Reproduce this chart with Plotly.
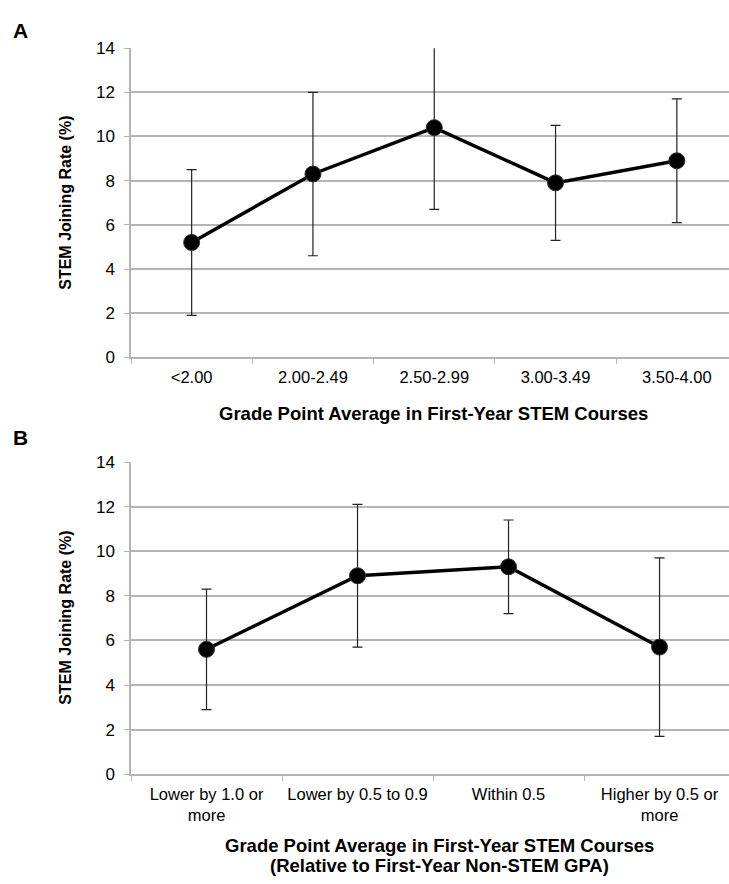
import plotly.graph_objects as go

# Panel A data
cats_a = ["<2.00", "2.00-2.49", "2.50-2.99", "3.00-3.49", "3.50-4.00"]
rate_a = [5.2, 8.3, 10.4, 7.9, 8.9]
err_a = [3.3, 3.7, 3.7, 2.6, 2.8]

# Panel B data
cats_b = ["Lower by 1.0 or<br>more", "Lower by 0.5 to 0.9", "Within 0.5", "Higher by 0.5 or<br>more"]
rate_b = [5.6, 8.9, 9.3, 5.7]
err_b = [2.7, 3.2, 2.1, 4.0]

y_ticks = [0, 2, 4, 6, 8, 10, 12, 14]

W, H = 729, 884
FONT = "Liberation Sans, Arial, sans-serif"

def py(pix):
    return 1 - pix / H

fig = go.Figure()

marker = dict(size=16, color="black", line=dict(color="#333", width=1))
line = dict(color="black", width=3.4)

fig.add_trace(go.Scatter(
    x=cats_a, y=rate_a, mode="lines+markers", marker=marker, line=line,
    error_y=dict(type="data", array=err_a, visible=True, color="#222", thickness=1.2, width=5),
    xaxis="x", yaxis="y", showlegend=False))

fig.add_trace(go.Scatter(
    x=cats_b, y=rate_b, mode="lines+markers", marker=marker, line=line,
    error_y=dict(type="data", array=err_b, visible=True, color="#222", thickness=1.2, width=5),
    xaxis="x2", yaxis="y2", showlegend=False))

grid = "#b4b4b4"
common_x = dict(type="category", showgrid=False, showline=True, linecolor=grid, linewidth=1.5,
                ticks="outside", tickson="boundaries", ticklen=5, tickcolor=grid,
                tickfont=dict(family=FONT, size=16.5, color="black"), zeroline=False,
                ticklabelstandoff=4)
common_y = dict(range=[0, 14], tickvals=y_ticks, showgrid=True, gridcolor=grid, gridwidth=1.5,
                showline=True, linecolor=grid, linewidth=1.5, ticks="outside", ticklen=5,
                tickcolor=grid, tickfont=dict(family=FONT, size=17, color="black"),
                zeroline=False, ticklabelstandoff=6)

fig.update_layout(
    width=W, height=H,
    margin=dict(l=0, r=0, t=0, b=0),
    paper_bgcolor="white", plot_bgcolor="white",
    xaxis=dict(common_x, domain=[131 / W, 1], anchor="y", categoryarray=cats_a,
               categoryorder="array", range=[-0.5, 4.43]),
    yaxis=dict(common_y, domain=[py(356), py(40)], anchor="x"),
    xaxis2=dict(common_x, domain=[131 / W, 1], anchor="y2", categoryarray=cats_b,
                categoryorder="array", range=[-0.5, 3.46]),
    yaxis2=dict(common_y, domain=[py(782), py(463)], anchor="x2"),
)

ann = []
def add_text(text, x, y, size, bold=True, angle=0):
    ann.append(dict(text=f"<b>{text}</b>" if bold else text, x=x / W, y=py(y),
                    xref="paper", yref="paper", showarrow=False, textangle=angle,
                    font=dict(family=FONT, size=size, color="black"),
                    xanchor="center", yanchor="middle"))

add_text("A", 20, 22, 21)
add_text("B", 20, 438, 21)
add_text("Grade Point Average in First-Year STEM Courses", 433, 413, 18.5)
add_text("STEM Joining Rate (%)", 66, 198, 16, angle=-90)
add_text("STEM Joining Rate (%)", 66, 622, 16, angle=-90)
add_text("Grade Point Average in First-Year STEM Courses", 440, 855, 18.5)
add_text("(Relative to First-Year Non-STEM GPA)", 440, 875, 18.5)

fig.update_layout(annotations=ann)

fig.write_html("out.html", config={"displayModeBar": False},
               post_script="document.body.style.margin='0';document.body.style.overflow='hidden';")
